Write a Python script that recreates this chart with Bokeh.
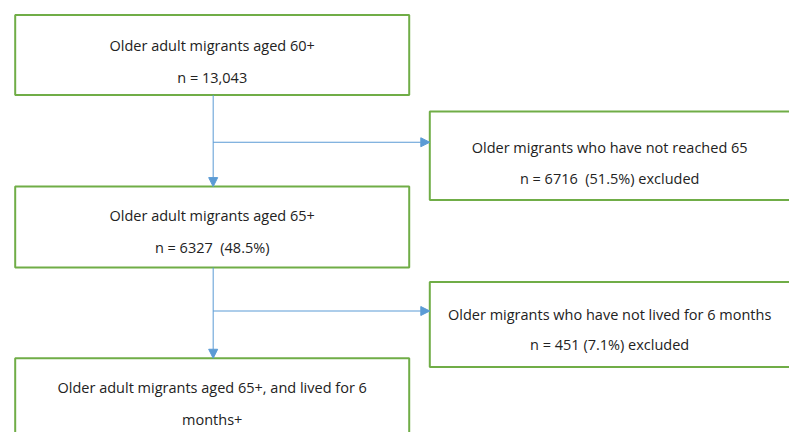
from bokeh.plotting import figure
from bokeh.models import Range1d, Arrow, NormalHead, ColumnDataSource
from bokeh.core.properties import value
from bokeh.embed import file_html
from bokeh.resources import INLINE

# Flow chart content
box_line1 = [
    "Older adult migrants aged 60+",
    "Older migrants who have not reached 65",
    "Older adult migrants aged 65+",
    "Older migrants who have not lived for 6 months",
    "Older adult migrants aged 65+, and lived for 6",
]
box_line2 = [
    "n = 13,043",
    "n = 6716\u00a0 (51.5%) excluded",
    "n = 6327\u00a0 (48.5%)",
    "n = 451 (7.1%) excluded",
    "months+",
]

# layout (reference pixel coordinates)
box_left = [15, 438, 15, 438, 15]
box_right = [417, 815, 417, 815, 417]
box_top = [15, 115, 193, 292, 371]
box_bottom = [98, 207, 277, 380, 470]
line1_y = [47, 152, 223, 326, 401]
line2_y = [80, 185, 256, 357, 434]

GREEN = "#70AD47"
BLUE = "#5B9BD5"
FONT = "Open Sans"

p = figure(width=789, height=432, output_backend="svg", toolbar_location=None,
           x_range=Range1d(0, 805), y_range=Range1d(448, 0),
           min_border=0, outline_line_color=None)
p.axis.visible = False
p.grid.visible = False
p.background_fill_color = "white"
p.border_fill_color = "white"

src = ColumnDataSource(dict(
    l=box_left, r=box_right, t=box_top, b=box_bottom,
    cx=[(a + b) / 2 if b < 800 else (a + 805) / 2 for a, b in zip(box_left, box_right)],
    y1=line1_y, y2=line2_y, t1=box_line1, t2=box_line2,
))
p.quad(left="l", right="r", top="t", bottom="b", source=src,
       fill_color="white", line_color=GREEN, line_width=2)
p.text(x="cx", y="y1", text="t1", source=src, text_align="center", text_baseline="middle",
       text_font=value(FONT), text_font_size="14.5px", text_color="#222222")
p.text(x="cx", y="y2", text="t2", source=src, text_align="center", text_baseline="middle",
       text_font=value(FONT), text_font_size="14.5px", text_color="#222222")

# connectors
vx = 217
for (ys, ye, hy, hx_end) in [(98, 193, 147, 438), (277, 371, 322, 438)]:
    p.add_layout(Arrow(end=NormalHead(size=9, fill_color=BLUE, line_color=BLUE),
                       x_start=vx, y_start=ys, x_end=vx, y_end=ye,
                       line_color=BLUE, line_width=1))
    p.add_layout(Arrow(end=NormalHead(size=9, fill_color=BLUE, line_color=BLUE),
                       x_start=vx, y_start=hy, x_end=hx_end, y_end=hy,
                       line_color=BLUE, line_width=1))

open("out.html", "w").write(file_html(p, INLINE))
